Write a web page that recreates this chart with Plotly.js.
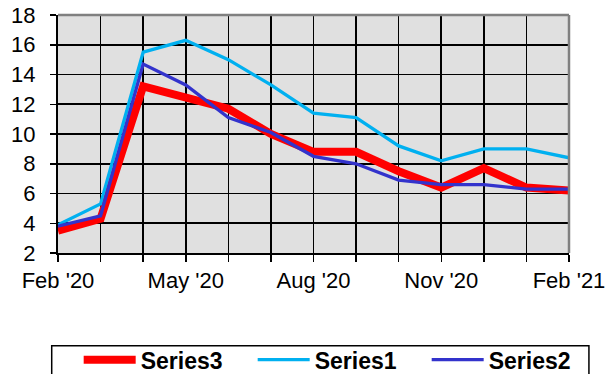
<!DOCTYPE html>
<html>
<head>
<meta charset="utf-8">
<script src="https://cdn.plot.ly/plotly-3.0.1.min.js"></script>
<style>html,body{margin:0;padding:0;background:#fff;}#chart{width:613px;height:374px;}</style>
</head>
<body>
<div id="chart"></div>
<script>
var months = ["Feb '20","Mar '20","Apr '20","May '20","Jun '20","Jul '20","Aug '20","Sep '20","Oct '20","Nov '20","Dec '20","Jan '21","Feb '21"];
var tickLabels = ["Feb '20","","","May '20","","","Aug '20","","","Nov '20","","","Feb '21"];
var series3 = [3.5,4.3,13.2,12.5,11.7,10.0,8.8,8.8,7.5,6.4,7.7,6.4,6.2];
var series1 = [3.9,5.3,15.5,16.3,15.0,13.3,11.4,11.1,9.2,8.2,9.0,9.0,8.4];
var series2 = [3.8,4.5,14.7,13.3,11.1,10.1,8.5,8.0,6.9,6.6,6.6,6.3,6.3];
var yTicks = [2,4,6,8,10,12,14,16,18];

var FONT = "Liberation Sans, Arial, sans-serif";

var traces = [
  {x: months, y: series3, name: "Series3", type: "scatter", mode: "lines", line: {color: "#FF0000", width: 8}},
  {x: months, y: series1, name: "Series1", type: "scatter", mode: "lines", line: {color: "#00B0F0", width: 3.3}},
  {x: months, y: series2, name: "Series2", type: "scatter", mode: "lines", line: {color: "#3333CC", width: 3.3}}
];

var layout = {
  width: 613, height: 374,
  margin: {l: 58, r: 44, t: 15, b: 121, pad: 0, autoexpand: false},
  paper_bgcolor: "#FFFFFF",
  plot_bgcolor: "#E0E0E0",
  font: {family: FONT, size: 22, color: "#000"},
  showlegend: true,
  xaxis: {
    type: "category",
    range: [0, 12],
    tickmode: "array",
    tickvals: months,
    ticktext: tickLabels,
    ticks: "outside", ticklen: 7, tickwidth: 1.5, tickcolor: "#000",
    showgrid: true, gridcolor: "#000", gridwidth: 1.6,
    showline: true, linecolor: "#000", linewidth: 2,
    tickfont: {family: FONT, size: 22, color: "#000"},
    ticklabelstandoff: 0,
    zeroline: false,
    fixedrange: true
  },
  yaxis: {
    range: [2, 18],
    tickmode: "array",
    tickvals: yTicks,
    ticks: "outside", ticklen: 6, tickwidth: 1.5, tickcolor: "#000",
    showgrid: true, gridcolor: "#000", gridwidth: 1.6,
    showline: true, linecolor: "#000", linewidth: 2,
    tickfont: {family: FONT, size: 22, color: "#000"},
    ticklabelstandoff: 10,
    zeroline: false,
    fixedrange: true
  },
  legend: {
    orientation: "h",
    x: 1.062, xanchor: "right",
    y: -0.358, yanchor: "top",
    bgcolor: "rgba(0,0,0,0)",
    borderwidth: 0,
    font: {family: FONT, size: 23, color: "#000", weight: "bold"},
    entrywidth: 107, entrywidthmode: "pixels",
    itemwidth: 52,
    traceorder: "normal"
  },
  shapes: [
    {type: "line", xref: "paper", yref: "paper", x0: 0, x1: 1, y0: 1, y1: 1, line: {color: "#808080", width: 2.5}, layer: "above"},
    {type: "line", xref: "paper", yref: "paper", x0: 1, x1: 1, y0: 0, y1: 1, line: {color: "#808080", width: 2.5}, layer: "above"},
    {type: "rect", xref: "paper", yref: "paper", x0: -0.0123, x1: 1.039, y0: -0.3895, y1: -0.56, line: {color: "#000", width: 1.5}, fillcolor: "rgba(0,0,0,0)", layer: "below"}
  ]
};

Plotly.newPlot("chart", traces, layout, {displayModeBar: false, staticPlot: true});
</script>
</body>
</html>
